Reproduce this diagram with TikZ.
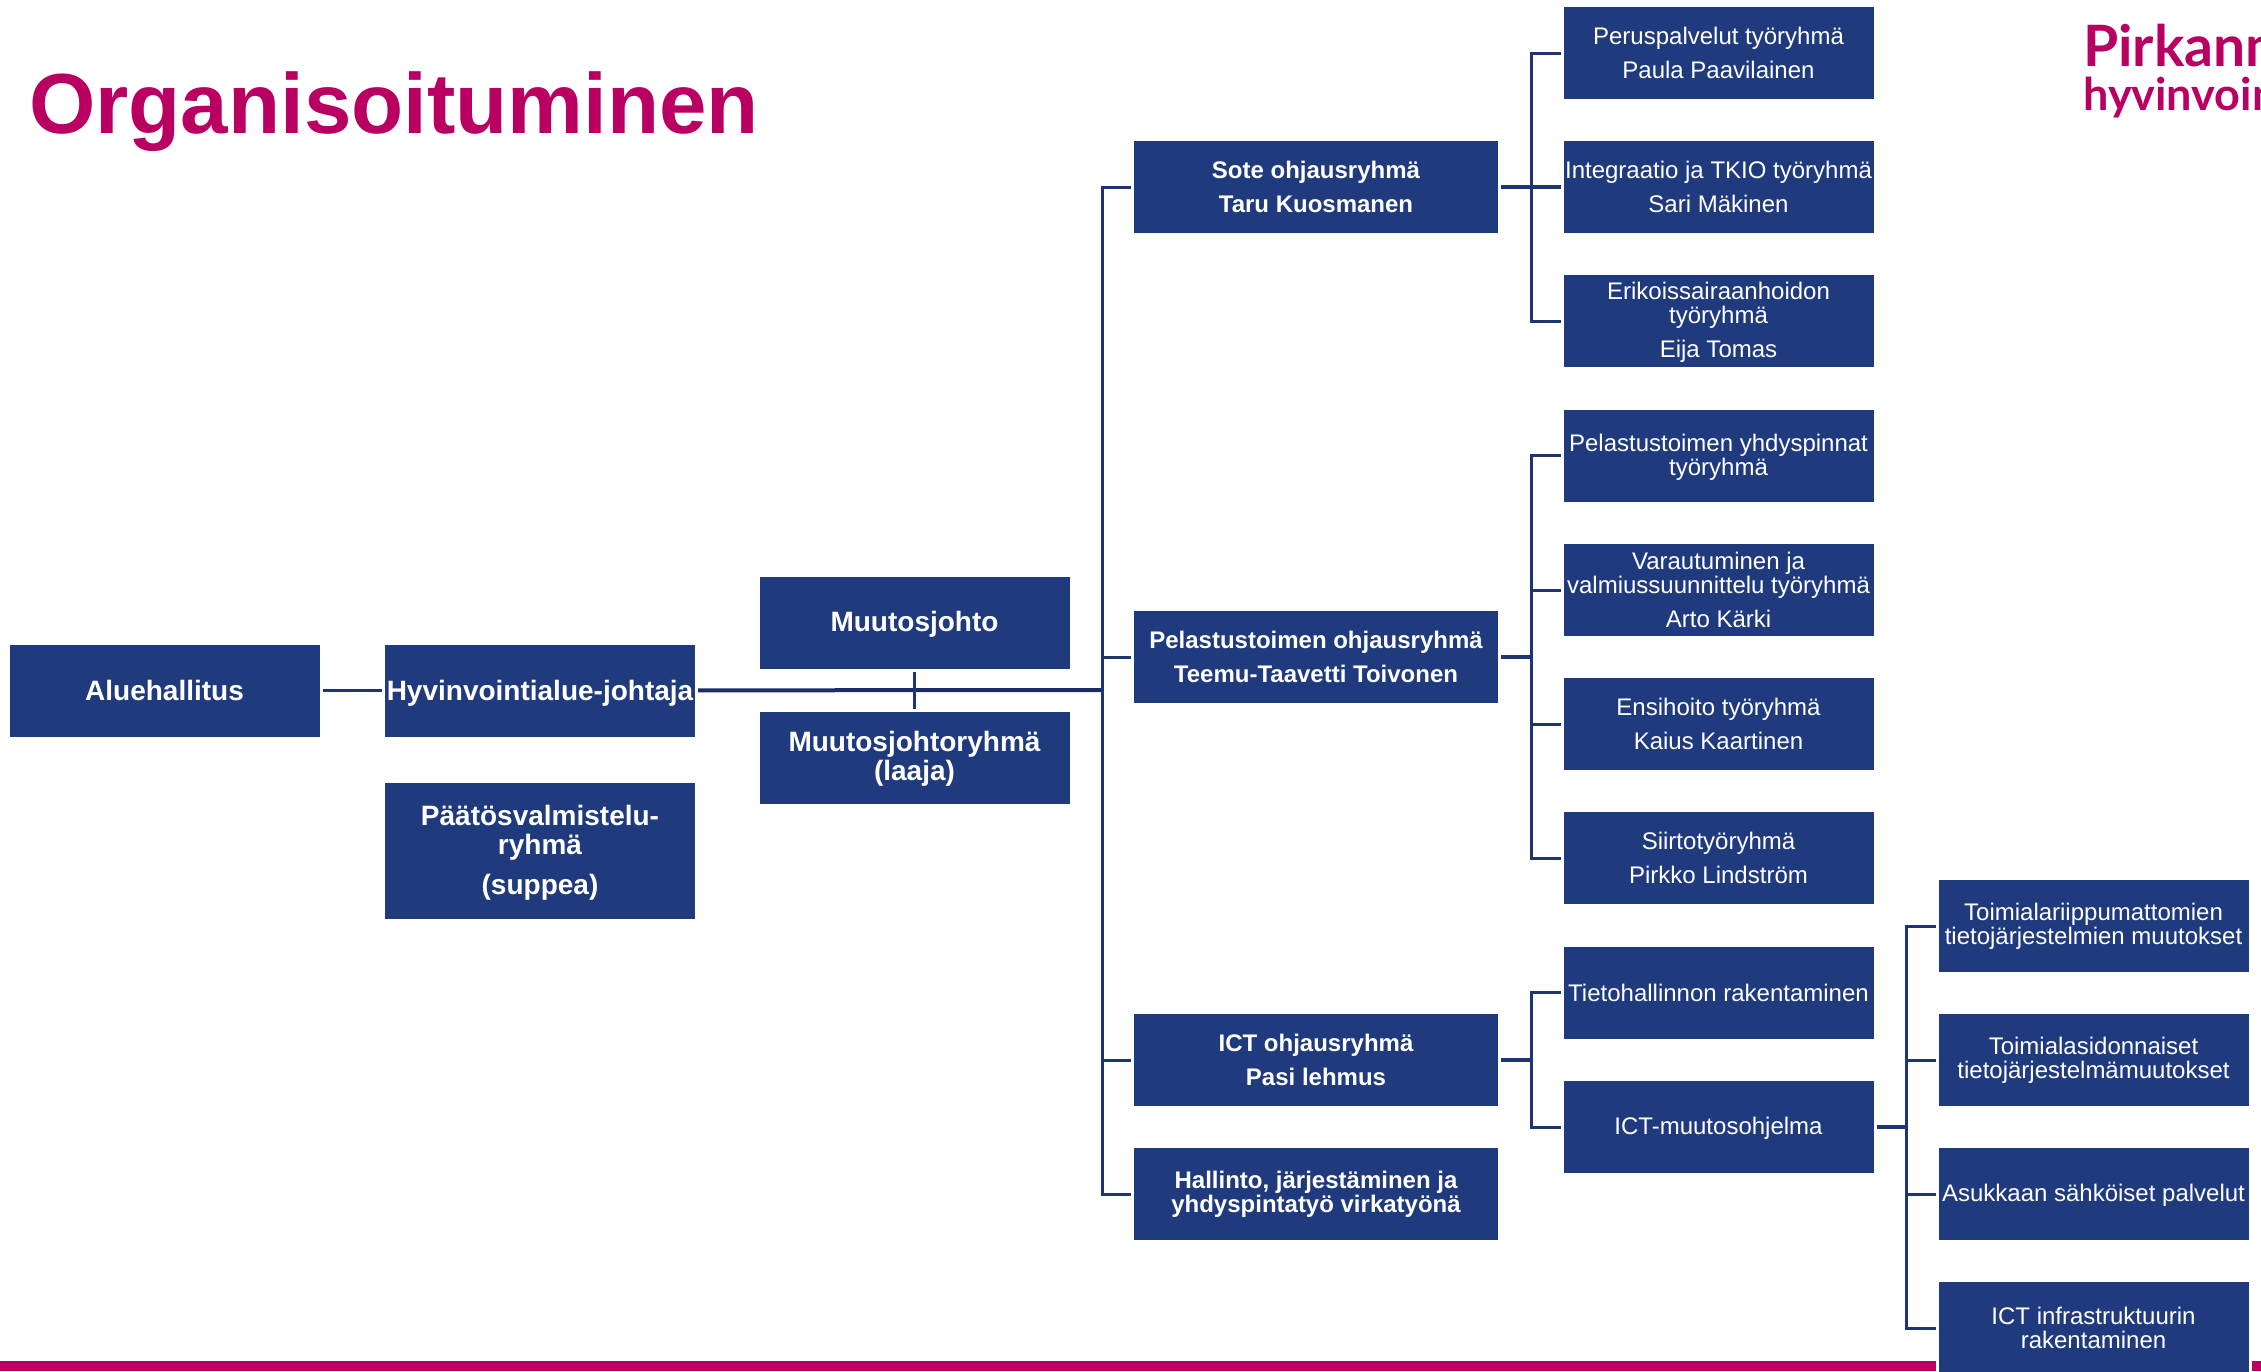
\documentclass[tikz,border=0pt]{standalone}
\usepackage{fontspec}
\setmainfont{Liberation Sans}
\newfontfamily\logofont{Lato}
\definecolor{boxblue}{HTML}{203A7E}
\definecolor{lineblue}{HTML}{1F3572}
\definecolor{mainblue}{HTML}{1A2C68}
\definecolor{brand}{HTML}{B90062}
\usetikzlibrary{calc}
\newcommand{\dropby}[2]{\raisebox{-#1}[\height][\depth]{#2}}

\begin{document}
\begin{tikzpicture}[x=1pt,y=-1pt,
	box/.style={fill=boxblue,draw=white,line width=3pt,outer sep=1.5pt,inner sep=0pt,text=white,align=center,minimum width=313pt,minimum height=95pt,font=\fontsize{24}{24}\selectfont},
	lead/.style={box,font=\fontsize{24}{24}\selectfont\bfseries,minimum width=367pt},
	top/.style={box,font=\fontsize{28}{29}\selectfont\bfseries},
	link/.style={draw=lineblue,line width=3pt},
	stem/.style={draw=lineblue,line width=3.6pt},
	mainline/.style={draw=mainblue,line width=4pt},
	thin/.style={draw=lineblue,line width=2.4pt},
	title/.style={text=brand,inner sep=0pt,anchor=base west},
	]

		\useasboundingbox (0,0) rectangle (2261,1371);

		\coordinate (Trunk) at (1102,690);
		\coordinate (SoteBus) at (1531,187);
		\coordinate (PelBus) at (1531,657);
		\coordinate (IctBus) at (1531,1060);
		\coordinate (OhjBus) at (1906,1127);

		\fill [brand] (0,1361) rectangle (2261,1371);

		\node [title,font=\fontsize{85.3}{85.3}\selectfont\bfseries] (Title) at (29,133) {Organisoituminen};
		\node [title,font=\logofont\fontsize{57}{57}\selectfont\bfseries] (LogoA) at (2083,66) {Pirkanm};
		\node [title,font=\logofont\fontsize{45}{45}\selectfont\bfseries] (LogoB) at (2083,110) {hyvinvoin};

		\node [top] (Alue) at (164.5,690.5) {Aluehallitus};
		\node [top] (Hyv) at (540,690.5) {\dropby{2.5pt}{Hyvinvointialue-johtaja}};
		\node [top,minimum height=139pt] (Paatos) at (540,851) {\dropby{1.5pt}{Päätösvalmistelu-}\\\dropby{1.5pt}{ryhmä}\\[11pt]\dropby{1.5pt}{(suppea)}};
		\node [top] (Muutos) at (914.5,623) {\dropby{1.5pt}{Muutosjohto}};
		\node [top] (Ryhma) at (914.5,758) {\dropby{1pt}{Muutosjohtoryhmä}\\\dropby{1pt}{(laaja)}};

		\node [lead] (Sote) at (1316,187) {Sote ohjausryhmä\\[10pt]Taru Kuosmanen};
		\node [lead] (Pel) at (1316,657) {Pelastustoimen ohjausryhmä\\[10pt]Teemu-Taavetti Toivonen};
		\node [lead] (Ict) at (1316,1060) {ICT ohjausryhmä\\[10pt]Pasi lehmus};
		\node [lead] (Hall) at (1316,1194) {Hallinto, järjestäminen ja\\yhdyspintatyö virkatyönä};

		\node [box] (Perus) at (1718.5,53) {Peruspalvelut työryhmä\\[10pt]Paula Paavilainen};
		\node [box] (Integ) at (1718.5,187) {Integraatio ja TKIO työryhmä\\[10pt]Sari Mäkinen};
		\node [box] (Erik) at (1718.5,321) {\dropby{1.5pt}{Erikoissairaanhoidon}\\\dropby{1.5pt}{työryhmä}\\[10pt]\dropby{1.5pt}{Eija Tomas}};
		\node [box] (Yhdys) at (1718.5,455.5) {\dropby{1.5pt}{Pelastustoimen yhdyspinnat}\\\dropby{1.5pt}{työryhmä}};
		\node [box] (Varau) at (1718.5,590) {Varautuminen ja\\valmiussuunnittelu työryhmä\\[10pt]Arto Kärki};
		\node [box] (Ensi) at (1718.5,724) {Ensihoito työryhmä\\[10pt]Kaius Kaartinen};
		\node [box] (Siirto) at (1718.5,858) {Siirtotyöryhmä\\[10pt]Pirkko Lindström};
		\node [box] (Tieto) at (1718.5,992.5) {Tietohallinnon rakentaminen};
		\node [box] (Ohj) at (1718.5,1127) {\dropby{1.5pt}{ICT-muutosohjelma}};

		\node [box] (Riippu) at (2093.5,926) {Toimialariippumattomien\\tietojärjestelmien muutokset};
		\node [box] (Sidon) at (2093.5,1060) {Toimialasidonnaiset\\tietojärjestelmämuutokset};
		\node [box] (Asuk) at (2093.5,1194) {\dropby{1.5pt}{Asukkaan sähköiset palvelut}};
		\node [box] (Infra) at (2093.5,1328) {ICT infrastruktuurin\\rakentaminen};

		\draw [stem] (Alue)--(Hyv);
		\draw [mainline] (Hyv)--(Trunk);
		\draw [thin] (Muutos)--(Ryhma);

		\draw [link] (Sote.west)-|(Trunk)|-(Hall.west);
		\draw [link] (Trunk)|-(Pel.west);
		\draw [link] (Trunk)|-(Ict.west);

		\draw [link] (Perus.west)-|(SoteBus)|-(Erik.west);
		\draw [stem] (Sote.east)--(Integ.west);

		\draw [link] (Yhdys.west)-|(PelBus)|-(Siirto.west);
		\draw [stem] (Pel.east)--(PelBus);
		\draw [link] (PelBus)|-(Varau.west);
		\draw [link] (PelBus)|-(Ensi.west);

		\draw [link] (Tieto.west)-|(IctBus)|-(Ohj.west);
		\draw [stem] (Ict.east)--(IctBus);

		\draw [link] (Riippu.west)-|(OhjBus)|-(Infra.west);
		\draw [stem] (Ohj.east)--(OhjBus);
		\draw [link] (OhjBus)|-(Sidon.west);
		\draw [link] (OhjBus)|-(Asuk.west);

\end{tikzpicture}
\end{document}
